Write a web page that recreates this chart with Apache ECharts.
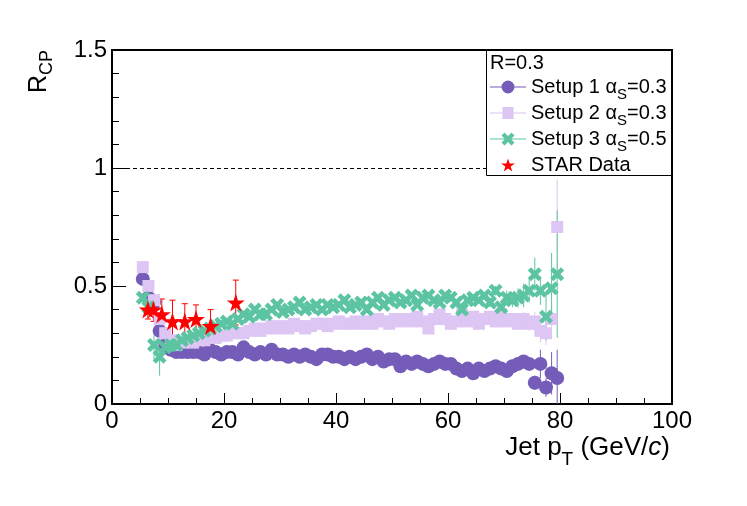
<!DOCTYPE html>
<html><head><meta charset="utf-8">
<script src="https://cdn.jsdelivr.net/npm/echarts/dist/echarts.min.js"></script>
<style>html,body{margin:0;padding:0;background:#fff}#c{width:747px;height:506px}</style>
</head><body><div id="c"></div>
<script>
const FONT = 'Liberation Sans, Arial, Helvetica, sans-serif';

// ---- data ----
const xCenters = [5.5,6.5,7.5,8.5,9.5,10.5,11.5,12.5,13.5,14.5,15.5,16.5,17.5,18.5,19.5,20.5,21.5,22.5,23.5,24.5,25.5,26.5,27.5,28.5,29.5,30.5,31.5,32.5,33.5,34.5,35.5,36.5,37.5,38.5,39.5,40.5,41.5,42.5,43.5,44.5,45.5,46.5,47.5,48.5,49.5,50.5,51.5,52.5,53.5,54.5,55.5,56.5,57.5,58.5,59.5,60.5,61.5,62.5,63.5,64.5,65.5,66.5,67.5,68.5,69.5,70.5,71.5,72.5,73.5,74.5,75.5,76.5,77.5,78.5,79.5];

const setup1 = [0.53,0.45,0.43,0.31,0.25,0.23,0.22,0.22,0.22,0.22,
  0.22,0.21,0.23,0.22,0.21,0.22,0.22,0.21,0.24,0.22,
  0.21,0.22,0.21,0.23,0.21,0.21,0.20,0.21,0.20,0.21,
  0.20,0.19,0.21,0.21,0.20,0.20,0.19,0.20,0.19,0.20,
  0.21,0.19,0.20,0.18,0.19,0.19,0.16,0.18,0.17,0.18,
  0.17,0.16,0.17,0.18,0.17,0.17,0.15,0.14,0.15,0.13,
  0.15,0.14,0.15,0.16,0.15,0.14,0.16,0.17,0.18,0.17,
  0.09,0.17,0.07,0.13,0.11];
const setup1Err = [0.02,0.03,0.04,0.04,0.02,0.01,0.01,0.01,0.01,0.01,
  0.01,0.01,0.01,0.01,0.01,0.01,0.01,0.01,0.01,0.01,
  0.01,0.01,0.01,0.01,0.01,0.01,0.01,0.01,0.01,0.01,
  0.01,0.01,0.01,0.01,0.01,0.01,0.01,0.01,0.01,0.01,
  0.01,0.01,0.01,0.01,0.01,0.01,0.01,0.01,0.01,0.01,
  0.01,0.01,0.01,0.01,0.01,0.01,0.01,0.01,0.01,0.01,
  0.01,0.01,0.01,0.01,0.01,0.01,0.01,0.02,0.02,0.02,
  0.03,0.06,0.04,0.09,0.12];

const setup2 = [0.58,0.50,0.44,0.36,0.30,0.27,0.25,0.26,0.27,0.26,
  0.28,0.27,0.28,0.28,0.29,0.29,0.30,0.30,0.30,0.31,
  0.32,0.31,0.32,0.33,0.32,0.33,0.32,0.34,0.33,0.32,
  0.33,0.34,0.34,0.33,0.34,0.35,0.34,0.34,0.35,0.34,
  0.35,0.34,0.36,0.35,0.34,0.36,0.35,0.36,0.35,0.37,
  0.35,0.32,0.36,0.38,0.36,0.34,0.35,0.38,0.35,0.37,
  0.34,0.36,0.37,0.35,0.38,0.35,0.36,0.34,0.36,0.34,
  0.35,0.31,0.30,0.36,0.75];
const setup2Err = [0.02,0.02,0.03,0.03,0.02,0.01,0.01,0.01,0.01,0.01,
  0.01,0.01,0.01,0.01,0.01,0.01,0.01,0.01,0.01,0.01,
  0.01,0.01,0.01,0.01,0.01,0.01,0.01,0.01,0.01,0.01,
  0.01,0.01,0.01,0.01,0.01,0.01,0.01,0.01,0.01,0.01,
  0.01,0.01,0.01,0.01,0.01,0.01,0.01,0.01,0.01,0.01,
  0.01,0.01,0.01,0.01,0.01,0.01,0.01,0.01,0.01,0.01,
  0.01,0.01,0.01,0.01,0.02,0.02,0.02,0.02,0.03,0.03,
  0.04,0.05,0.05,0.06,0.20];

const setup3 = [0.45,0.41,0.25,0.20,0.24,0.25,0.25,0.27,0.28,0.29,
  0.30,0.31,0.32,0.33,0.34,0.35,0.34,0.36,0.38,0.37,
  0.40,0.38,0.38,0.40,0.42,0.39,0.40,0.41,0.43,0.40,
  0.41,0.42,0.40,0.42,0.41,0.42,0.44,0.41,0.42,0.43,
  0.40,0.43,0.45,0.42,0.44,0.45,0.43,0.44,0.46,0.42,
  0.45,0.46,0.44,0.43,0.46,0.45,0.43,0.40,0.44,0.45,
  0.44,0.46,0.43,0.48,0.41,0.45,0.44,0.45,0.46,0.48,
  0.55,0.48,0.37,0.49,0.55];
const setup3Err = [0.02,0.03,0.06,0.08,0.03,0.01,0.01,0.01,0.01,0.01,
  0.01,0.01,0.01,0.01,0.01,0.01,0.01,0.01,0.01,0.01,
  0.01,0.01,0.01,0.01,0.01,0.01,0.01,0.01,0.01,0.01,
  0.01,0.01,0.01,0.01,0.01,0.01,0.01,0.01,0.01,0.01,
  0.01,0.01,0.01,0.01,0.01,0.01,0.01,0.01,0.01,0.01,
  0.01,0.01,0.01,0.01,0.01,0.01,0.01,0.01,0.01,0.01,
  0.01,0.01,0.02,0.02,0.02,0.03,0.03,0.04,0.05,0.05,
  0.07,0.06,0.10,0.15,0.27];

const starX = [6.4, 7.4, 8.9, 10.8, 13.0, 15.0, 17.6, 22.1];
const starY = [0.40, 0.40, 0.38, 0.35, 0.35, 0.36, 0.33, 0.43];
const starErr = [0.04, 0.05, 0.065, 0.09, 0.075, 0.06, 0.07, 0.095];

const seriesNames = ['Setup 1', 'Setup 2', 'Setup 3', 'STAR Data'];
const alphaS = ['0.3', '0.3', '0.5'];
const headerText = 'R=0.3';
const refLine = 1;

// ---- styles ----
const C1 = '#745cb8', C2 = '#ddc6f3', C3 = '#5cc4a2', C4 = '#ff0000';
const CROSS = 'path://M0,3 L3,0 L6.5,3.5 L10,0 L13,3 L9.5,6.5 L13,10 L10,13 L6.5,9.5 L3,13 L0,10 L3.5,6.5 Z';
const STAR = 'path://M50,0 L61.8,35.1 L98.9,35.1 L68.9,56.9 L80.3,92.1 L50,70.3 L19.7,92.1 L31.1,56.9 L1.1,35.1 L38.2,35.1 Z';
const ICON1 = 'path://M0,6 L11.5,6 L11.5,7 L0,7 Z M24.5,6 L36,6 L36,7 L24.5,7 Z M11.5,6.5 A6.5,6.5 0 1 1 24.5,6.5 A6.5,6.5 0 1 1 11.5,6.5 Z';
const ICON2 = 'path://M0,6 L12.5,6 L12.5,7 L0,7 Z M23.5,6 L36,6 L36,7 L23.5,7 Z M12.5,0.5 L23.5,0.5 L23.5,12.5 L12.5,12.5 Z';
const ICON3 = 'path://M0,6 L15,6 L15,7 L0,7 Z M21,6 L36,6 L36,7 L21,7 Z M11.5,3 L14.5,0 L18,3.5 L21.5,0 L24.5,3 L21,6.5 L24.5,10 L21.5,13 L18,9.5 L14.5,13 L11.5,10 L15,6.5 Z';

function pts(xs, ys) { return xs.map((x, i) => [x, ys[i]]); }
function errSeries(id, xs, ys, es, color, cap) {
  return {
    type: 'custom', name: id, clip: true, silent: true, z: 2,
    data: xs.map((x, i) => [x, ys[i], es[i]]),
    renderItem: function (params, api) {
      const x = api.value(0), y = api.value(1), e = api.value(2);
      const p1 = api.coord([x, y + e]);
      const p2 = api.coord([x, Math.max(0, y - e)]);
      const ch = [{ type: 'line', shape: { x1: p1[0], y1: p1[1], x2: p2[0], y2: p2[1] }, style: { stroke: color, lineWidth: 1 } }];
      if (cap) {
        ch.push({ type: 'line', shape: { x1: p1[0] - 3, y1: p1[1], x2: p1[0] + 3, y2: p1[1] }, style: { stroke: color, lineWidth: 1 } });
        ch.push({ type: 'line', shape: { x1: p2[0] - 3, y1: p2[1], x2: p2[0] + 3, y2: p2[1] }, style: { stroke: color, lineWidth: 1 } });
      }
      return { type: 'group', children: ch };
    }
  };
}

const legendLabels = {};
seriesNames.forEach((n, i) => {
  legendLabels[n] = i < 3 ? '{t|' + n + ' α}{s|S}{t|=' + alphaS[i] + '}' : '{u|' + n + '}';
});

const chart = echarts.init(document.getElementById('c'), null, { renderer: 'canvas' });
chart.setOption({
  animation: false,
  backgroundColor: '#fff',
  grid: { left: 112, right: 75, top: 50, bottom: 102, show: true, borderColor: '#000', borderWidth: 2, backgroundColor: 'transparent' },
  xAxis: {
    type: 'value', min: 0, max: 100, interval: 20,
    splitLine: { show: false },
    axisLine: { lineStyle: { color: '#000', width: 2 } },
    axisTick: { inside: true, length: 11, lineStyle: { color: '#000', width: 1 } },
    minorTick: { show: true, splitNumber: 4, length: 6, lineStyle: { color: '#000', width: 1 } },
    axisLabel: { fontSize: 24, color: '#000', fontFamily: FONT, margin: 5 }
  },
  yAxis: {
    type: 'value', min: 0, max: 1.5, interval: 0.5,
    splitLine: { show: false },
    axisLine: { lineStyle: { color: '#000', width: 2 } },
    axisTick: { inside: true, length: 14, lineStyle: { color: '#000', width: 1 } },
    minorTick: { show: true, splitNumber: 5, length: 7, lineStyle: { color: '#000', width: 1 } },
    axisLabel: { fontSize: 24, color: '#000', fontFamily: FONT, margin: 5 }
  },
  legend: {
    orient: 'vertical', left: 490, top: 77, z: 110, padding: 0, itemGap: 1,
    itemWidth: 36, itemHeight: 13, symbolKeepAspect: true, selectedMode: false,
    data: [
      { name: seriesNames[0], icon: ICON1 },
      { name: seriesNames[1], icon: ICON2 },
      { name: seriesNames[2], icon: ICON3 },
      { name: seriesNames[3], icon: STAR }
    ],
    formatter: n => legendLabels[n],
    textStyle: {
      rich: {
        t: { fontSize: 20, fontFamily: FONT, color: '#000', lineHeight: 20, verticalAlign: 'top' },
        s: { fontSize: 15, fontFamily: FONT, color: '#000', lineHeight: 15, padding: [10, 0, 0, 0], verticalAlign: 'top' },
        u: { fontSize: 20, fontFamily: FONT, color: '#000', lineHeight: 20, padding: [0, 0, 5, 0], verticalAlign: 'top' }
      }
    }
  },
  graphic: [
    { type: 'rect', z: 100, shape: { x: 486.5, y: 50.5, width: 185, height: 125 }, style: { fill: '#fff', stroke: '#000', lineWidth: 1 } },
    { type: 'text', z: 110, x: 490, y: 63, style: { text: headerText, font: '20px ' + FONT, fill: '#000', align: 'left', verticalAlign: 'middle' } },
    { type: 'text', z: 110, x: 670, y: 435, style: {
        text: '{t|Jet p}{s|T}{t| (GeV/}{i|c}{t|)}', align: 'right', verticalAlign: 'top',
        rich: {
          t: { fontSize: 26, fontFamily: FONT, fill: '#000', lineHeight: 26, verticalAlign: 'top' },
          s: { fontSize: 19, fontFamily: FONT, fill: '#000', lineHeight: 19, padding: [15, 0, 0, 0], verticalAlign: 'top' },
          i: { fontSize: 26, fontFamily: FONT, fontStyle: 'italic', fill: '#000', lineHeight: 26, verticalAlign: 'top' }
        } } },
    { type: 'text', z: 110, x: 52, y: 50, rotation: Math.PI / 2, style: {
        text: '{t|R}{s|CP}', align: 'right', verticalAlign: 'bottom',
        rich: {
          t: { fontSize: 25, fontFamily: FONT, fill: '#000', lineHeight: 25, verticalAlign: 'top' },
          s: { fontSize: 18, fontFamily: FONT, fill: '#000', lineHeight: 18, padding: [11, 0, 0, 0], verticalAlign: 'top' }
        } } }
  ],
  series: [
    errSeries('e1', xCenters, setup1, setup1Err, C1, false),
    { type: 'scatter', name: seriesNames[0], data: pts(xCenters, setup1), symbol: 'circle', symbolSize: 14, z: 2,
      itemStyle: { color: C1, opacity: 1 },
      markLine: { silent: true, symbol: 'none', label: { show: false }, lineStyle: { color: '#000', type: [4, 3], width: 1 }, data: [{ yAxis: refLine }] } },
    errSeries('e2', xCenters, setup2, setup2Err, C2, false),
    { type: 'scatter', name: seriesNames[1], data: pts(xCenters, setup2), symbol: 'rect', symbolSize: 12, z: 2, itemStyle: { color: C2, opacity: 1 } },
    errSeries('e3', xCenters, setup3, setup3Err, C3, false),
    { type: 'scatter', name: seriesNames[2], data: pts(xCenters, setup3), symbol: CROSS, symbolSize: 14, z: 2, itemStyle: { color: C3, opacity: 1 } },
    errSeries('e4', starX, starY, starErr, C4, true),
    { type: 'scatter', name: seriesNames[3], data: pts(starX, starY), symbol: STAR, symbolSize: 18, z: 2, itemStyle: { color: C4, opacity: 1 } }
  ]
});
</script></body></html>
